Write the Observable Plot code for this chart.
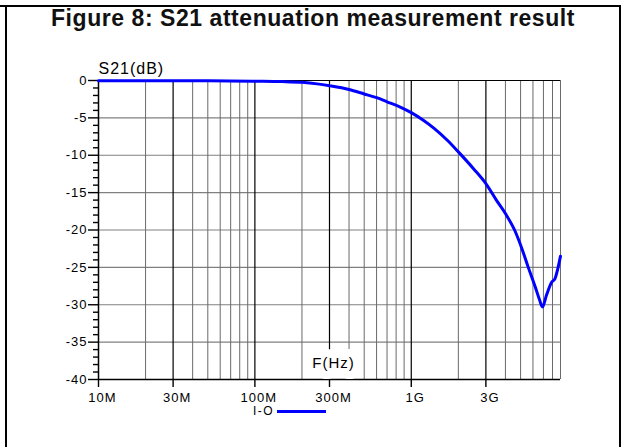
<!DOCTYPE html>
<html>
<head>
<meta charset="utf-8">
<script src="https://cdn.jsdelivr.net/npm/d3@7"></script>
<script src="https://cdn.jsdelivr.net/npm/@observablehq/plot@0.6"></script>
<style>
  html, body { margin: 0; padding: 0; background: #fff; }
  #wrap { position: relative; width: 621px; height: 447px; overflow: hidden; font-family: "Liberation Sans", Arial, sans-serif; }
  .line { position: absolute; background: #000; }
  #title { position: absolute; top: 5px; left: 7px; width: 612px; text-align: center; font-weight: bold; font-size: 23px; line-height: 26px; letter-spacing: 0.55px; color: #111; }
  #chart { position: absolute; top: 40px; left: 0; }
  #chart svg text { letter-spacing: 1px; }
  #legend { position: absolute; top: 403px; left: 253px; font-size: 12px; line-height: 16px; letter-spacing: 1.5px; color: #000; white-space: nowrap; }
  #legend .sw { display: inline-block; width: 49px; height: 3px; background: #0000ff; vertical-align: middle; margin-left: 3px; }
</style>
</head>
<body>
<div id="wrap">
  <div class="line" style="left:0;top:5px;width:621px;height:2px"></div>
  <div class="line" style="left:5px;top:5px;width:2px;height:442px"></div>
  <div class="line" style="left:619px;top:5px;width:2px;height:442px"></div>
  <div id="title">Figure 8: S21 attenuation measurement result</div>
  <div id="chart"></div>
  <div id="legend">I-O<span class="sw"></span></div>
</div>
<script>
// Measured S21 curve (frequency in Hz, attenuation in dB)
const freqHz = [1e7, 2e7, 5e7, 1e8, 1.5e8, 2e8, 2.5e8, 3e8, 4e8, 5e8, 6e8, 7e8, 8.5e8, 1e9, 1.2e9, 1.4e9, 1.7e9, 2e9, 2.5e9, 3e9, 3.5e9, 4e9, 4.6e9, 5.1e9, 5.6e9, 6.2e9, 6.6e9, 6.9e9, 7.3e9, 7.9e9, 8.3e9, 9e9];
const s21dB  = [-0.05, -0.05, -0.05, -0.1, -0.15, -0.25, -0.45, -0.7, -1.2, -1.8, -2.3, -2.85, -3.55, -4.3, -5.35, -6.4, -8.0, -9.55, -11.8, -13.8, -16.0, -17.8, -20.1, -22.5, -25.0, -27.6, -29.3, -30.3, -28.8, -27.0, -26.5, -23.5];

const xTickValues = [1e7, 3e7, 1e8, 3e8, 1e9, 3e9];
const xTickLabels = ["10M", "30M", "100M", "300M", "1G", "3G"];
const yTickValues = [0, -5, -10, -15, -20, -25, -30, -35, -40];
const yMinorTicks = d3.range(-40, 1).filter(v => v % 5 !== 0);
const xMinorGrid = [];
for (const dec of [1e7, 1e8, 1e9]) for (let m = 2; m <= 9; m++) {
  const v = m * dec;
  if (!xTickValues.includes(v)) xMinorGrid.push(v);
}

const chart = Plot.plot({
  width: 621,
  height: 365,
  marginTop: 40,
  marginBottom: 26,
  marginLeft: 98,
  marginRight: 61,
  style: { fontFamily: "'Liberation Sans', Arial, sans-serif", fontSize: "13px", background: "transparent", color: "#000" },
  x: { type: "log", domain: [1e7, 9e9] },
  y: { domain: [-40, 0] },
  marks: [
    Plot.ruleY(yTickValues.filter(v => v > -40 && v < 0), { stroke: "#808080", strokeWidth: 1.2 }),
    Plot.ruleX(xMinorGrid, { stroke: "#6a6a6a", strokeWidth: 1 }),
    Plot.ruleX(xTickValues.slice(1), { stroke: "#000", strokeWidth: 1.2 }),
    Plot.ruleY([0], { stroke: "#000" }),
    Plot.axisY({ ticks: yMinorTicks, tickSize: 5, strokeWidth: 1.4, tickFormat: () => "", label: null }),
    Plot.axisY({ ticks: yTickValues, tickSize: 10, strokeWidth: 1.4, tickPadding: 1, tickFormat: d => String(d), label: null }),
    Plot.axisX({ ticks: xTickValues, tickSize: 8, strokeWidth: 1.4, tickFormat: () => "", label: null }),
    Plot.axisX({ ticks: xTickValues, tickSize: 0, tickPadding: 13, dx: 4, tickFormat: d => xTickLabels[xTickValues.indexOf(d)], label: null }),
    Plot.ruleY([-40], { stroke: "#000", strokeWidth: 1.5 }),
    Plot.ruleX([1e7], { stroke: "#000", strokeWidth: 1.5 }),
    Plot.text(["F(Hz)"], { text: d => d, frameAnchor: "bottom", dx: 4, dy: -12, lineAnchor: "bottom", fontSize: 15, fill: "#000", stroke: "#fff", strokeWidth: 16, paintOrder: "stroke" }),
    Plot.line(freqHz, { x: freqHz, y: s21dB, stroke: "#0000ff", strokeWidth: 3, curve: "monotone-x" }),
    Plot.text(["S21(dB)"], { text: d => d, frameAnchor: "top-left", textAnchor: "start", lineAnchor: "bottom", dy: -7, fontSize: 16, fill: "#000" })
  ]
});
document.getElementById("chart").appendChild(chart);
</script>
</body>
</html>
